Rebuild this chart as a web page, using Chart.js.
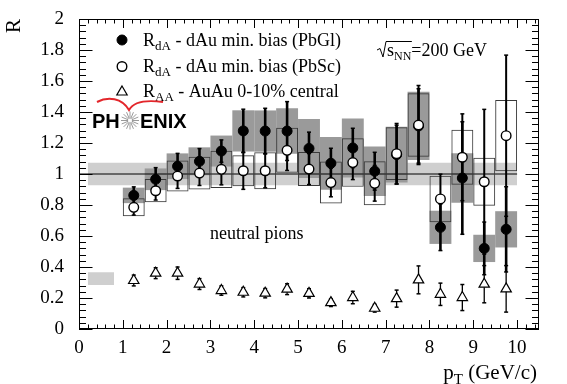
<!DOCTYPE html>
<html><head><meta charset="utf-8">
<script src="https://cdn.jsdelivr.net/npm/chart.js@4/dist/chart.umd.min.js"></script>
<style>html,body{margin:0;padding:0;background:#fff;}</style>
</head><body>
<canvas id="c" width="567" height="384"></canvas>
<script>
// ---------------- data ----------------
const pt = [1.25, 1.75, 2.25, 2.75, 3.25, 3.75, 4.25, 4.75, 5.25, 5.75, 6.25, 6.75, 7.25, 7.75, 8.25, 8.75, 9.25, 9.75];

const rdaPbGl  = [0.862, 0.966, 1.05, 1.082, 1.148, 1.278, 1.277, 1.277, 1.165, 1.069, 1.168, 1.018, 1.125, 1.31, 0.656, 0.974, 0.52, 0.643];
const statPbGl = [0.055, 0.075, 0.083, 0.082, 0.072, 0.14, 0.147, 0.19, 0.105, 0.097, 0.127, 0.122, 0.19, 0.24, 0.15, 0.363, 0.17, 0.275];
const sysPbGl  = [0.05, 0.07, 0.083, 0.09, 0.10, 0.133, 0.133, 0.147, 0.19, 0.17, 0.19, 0.16, 0.18, 0.22, 0.107, 0.16, 0.088, 0.117];

const rdaPbSc  = [0.785, 0.892, 0.987, 1.006, 1.03, 1.021, 1.021, 1.153, 1.032, 0.945, 1.074, 0.94, 1.131, 1.316, 0.839, 1.108, 0.95, 1.247];
const statPbSc = [0.05, 0.06, 0.08, 0.08, 0.10, 0.12, 0.11, 0.13, 0.10, 0.092, 0.11, 0.115, 0.195, 0.255, 0.16, 0.28, 0.467, 0.52];
const sysPbSc  = [0.058, 0.075, 0.10, 0.106, 0.12, 0.10, 0.12, 0.145, 0.11, 0.135, 0.156, 0.142, 0.17, 0.205, 0.15, 0.178, 0.155, 0.23];

const raaAuAu  = [0.313, 0.36, 0.36, 0.29, 0.248, 0.237, 0.231, 0.257, 0.23, 0.17, 0.203, 0.134, 0.196, 0.317, 0.224, 0.203, 0.289, 0.259];
const statRaa  = [0.035, 0.035, 0.04, 0.035, 0.03, 0.03, 0.03, 0.035, 0.03, 0.025, 0.04, 0.025, 0.055, 0.09, 0.072, 0.084, 0.12, 0.15];

const dAuNormBand  = [0.928, 1.072];   // R range
const dAuNormRange = [0.2, 10.0];      // pT range
const AuAuNormBand  = [0.284, 0.366];
const AuAuNormRange = [0.2, 0.8];
const unityRange = [0, 10];

const xTickValues = [0,1,2,3,4,5,6,7,8,9,10];
const xTickLabels = ['0','1','2','3','4','5','6','7','8','9','10'];
const yTickValues = [0,0.2,0.4,0.6,0.8,1,1.2,1.4,1.6,1.8,2];
const yTickLabels = ['0','0.2','0.4','0.6','0.8','1','1.2','1.4','1.6','1.8','2'];

const SERIF = '"Liberation Serif", "Times New Roman", serif';
const SANS = '"Liberation Sans", Arial, sans-serif';

// ---------------- helpers ----------------
function errSegs(vals, errs) {
  const d = [];
  pt.forEach((x, i) => { d.push({x, y: vals[i] - errs[i]}, {x, y: vals[i] + errs[i]}, {x, y: null}); });
  return d;
}
function caps(vals, errs) {
  const d = [];
  pt.forEach((x, i) => { d.push({x, y: vals[i] - errs[i]}, {x, y: vals[i] + errs[i]}); });
  return d;
}
function boxes(vals, errs) { return pt.map((x, i) => ({x, y: [vals[i] - errs[i], vals[i] + errs[i]]})); }
function pts(vals) { return pt.map((x, i) => ({x, y: vals[i]})); }
function labelFor(values, labels, v) {
  const i = values.findIndex(t => Math.abs(t - v) < 1e-6);
  return i >= 0 ? labels[i] : '';
}

const hidden = {pointRadius: 0, borderWidth: 0, borderColor: 'rgba(0,0,0,0)'};

const datasets = [
  // light grey normalisation band around 1
  Object.assign({type: 'line', order: 100, data: [{x: dAuNormRange[0], y: dAuNormBand[1]}, {x: dAuNormRange[1], y: dAuNormBand[1]}],
    fill: '+1', backgroundColor: '#cfcfcf'}, hidden),
  Object.assign({type: 'line', order: 100, data: [{x: dAuNormRange[0], y: dAuNormBand[0]}, {x: dAuNormRange[1], y: dAuNormBand[0]}],
    fill: false}, hidden),
  // AuAu normalisation box
  Object.assign({type: 'line', order: 100, data: [{x: AuAuNormRange[0], y: AuAuNormBand[1]}, {x: AuAuNormRange[1], y: AuAuNormBand[1]}],
    fill: '+1', backgroundColor: '#cfcfcf'}, hidden),
  Object.assign({type: 'line', order: 100, data: [{x: AuAuNormRange[0], y: AuAuNormBand[0]}, {x: AuAuNormRange[1], y: AuAuNormBand[0]}],
    fill: false}, hidden),
  // PbGl systematic boxes (filled dark grey)
  {type: 'bar', order: 90, data: boxes(rdaPbGl, sysPbGl), backgroundColor: '#9a9a9a', borderWidth: 0,
    grouped: false, barPercentage: 1, categoryPercentage: 1, inflateAmount: 0},
  // unity line
  {type: 'line', order: 80, data: [{x: unityRange[0], y: 1}, {x: unityRange[1], y: 1}], borderColor: '#000', borderWidth: 1, pointRadius: 0},
  // PbSc systematic boxes (open)
  {type: 'bar', order: 70, data: boxes(rdaPbSc, sysPbSc), backgroundColor: 'rgba(0,0,0,0)', borderColor: '#3a3a3a', borderWidth: 1,
    borderSkipped: false, grouped: false, barPercentage: 1, categoryPercentage: 1, inflateAmount: 0},
  // RAA error bars + caps + triangles
  {type: 'line', order: 60, data: errSegs(raaAuAu, statRaa), borderColor: '#000', borderWidth: 1.3, pointRadius: 0, spanGaps: false},
  {type: 'scatter', order: 59, data: caps(raaAuAu, statRaa), pointStyle: 'line', pointRadius: 2, borderColor: '#000', borderWidth: 1.5},
  {type: 'scatter', order: 55, data: pts(raaAuAu), pointStyle: 'triangle', pointRadius: 6, backgroundColor: '#fff', borderColor: '#000', borderWidth: 1.2},
  // PbGl error bars + points
  {type: 'line', order: 50, data: errSegs(rdaPbGl, statPbGl), borderColor: '#000', borderWidth: 2.6, pointRadius: 0, spanGaps: false},
  {type: 'scatter', order: 49, data: caps(rdaPbGl, statPbGl), pointStyle: 'line', pointRadius: 2, borderColor: '#000', borderWidth: 1.5},
  {type: 'scatter', order: 45, data: pts(rdaPbGl), pointStyle: 'circle', pointRadius: 5, backgroundColor: '#000', borderColor: '#000', borderWidth: 1},
  // PbSc error bars + points
  {type: 'line', order: 40, data: errSegs(rdaPbSc, statPbSc), borderColor: '#000', borderWidth: 2, pointRadius: 0, spanGaps: false},
  {type: 'scatter', order: 39, data: caps(rdaPbSc, statPbSc), pointStyle: 'line', pointRadius: 2, borderColor: '#000', borderWidth: 1.5},
  {type: 'scatter', order: 35, data: pts(rdaPbSc), pointStyle: 'circle', pointRadius: 4.8, backgroundColor: '#fff', borderColor: '#000', borderWidth: 1.4}
];

// ---------------- decoration plugin ----------------
function rich(ctx, x, y, parts, align) {
  let w = 0;
  parts.forEach(p => { ctx.font = p[1]; w += ctx.measureText(p[0]).width; });
  let cx = align === 'right' ? x - w : x;
  const pos = [];
  parts.forEach(p => { ctx.font = p[1]; ctx.fillText(p[0], cx, y + (p[2] || 0)); const ww = ctx.measureText(p[0]).width; pos.push([cx, cx + ww]); cx += ww; });
  return pos;
}

const decor = {
  id: 'decor',
  afterDraw(chart) {
    const {ctx, chartArea: a, scales: {x, y}} = chart;
    ctx.save();
    ctx.strokeStyle = '#000';
    ctx.lineWidth = 1;
    // frame
    ctx.strokeRect(a.left + 0.5, a.top + 0.5, a.right - a.left - 1, a.bottom - a.top - 1);
    // ticks
    function ticksOn(scale, values, sub, majorLen, minorLen, horizontal) {
      const all = [];
      for (let i = 0; i < values.length; i++) {
        all.push([values[i], majorLen]);
        const next = i + 1 < values.length ? values[i + 1] : scale.max;
        const step = (values[1] - values[0]) / sub;
        for (let k = 1; k < sub; k++) {
          const v = values[i] + k * step;
          if (v < next - 1e-9 && v <= scale.max + 1e-9) all.push([v, minorLen]);
        }
      }
      ctx.beginPath();
      all.forEach(([v, len]) => {
        const p = Math.round(scale.getPixelForValue(v)) + 0.5;
        if (horizontal) {
          ctx.moveTo(p, a.bottom); ctx.lineTo(p, a.bottom - len);
          ctx.moveTo(p, a.top); ctx.lineTo(p, a.top + len);
        } else {
          ctx.moveTo(a.left, p); ctx.lineTo(a.left + len, p);
          ctx.moveTo(a.right, p); ctx.lineTo(a.right - len, p);
        }
      });
      ctx.stroke();
    }
    ticksOn(x, xTickValues, 5, 9, 4.5, true);
    ticksOn(y, yTickValues, 5, 13.5, 7, false);

    ctx.fillStyle = '#000';
    ctx.textAlign = 'left';
    ctx.textBaseline = 'alphabetic';
    const F18 = '18px ' + SERIF, F13 = '13px ' + SERIF;

    // x-axis title
    rich(ctx, 537, 379, [['p', '21px ' + SERIF], ['T', '15px ' + SERIF, 5], [' (GeV/c)', '21px ' + SERIF]], 'right');

    // legend markers
    const H = Chart.helpers;
    ctx.fillStyle = '#000'; ctx.lineWidth = 1;
    H.drawPoint(ctx, {pointStyle: 'circle', radius: 5, borderWidth: 1, rotation: 0}, 122, 40);
    ctx.fillStyle = '#fff'; ctx.lineWidth = 1.4;
    H.drawPoint(ctx, {pointStyle: 'circle', radius: 4.8, borderWidth: 1.4, rotation: 0}, 122, 66.5);
    ctx.lineWidth = 1.2;
    H.drawPoint(ctx, {pointStyle: 'triangle', radius: 6, borderWidth: 1.2, rotation: 0}, 122, 92);
    ctx.fillStyle = '#000';
    rich(ctx, 143, 46, [['R', F18], ['dA', F13, 4], [' - dAu min. bias (PbGl)', F18]]);
    rich(ctx, 143, 72, [['R', F18], ['dA', F13, 4], [' - dAu min. bias (PbSc)', F18]]);
    rich(ctx, 143, 97, [['R', F18], ['AA', F13, 4], [' - AuAu 0-10% central', F18]]);

    // sqrt(s_NN) = 200 GeV
    const pos = rich(ctx, 387, 56, [['s', F18], ['NN', '12px ' + SERIF, 4], ['=200 GeV', F18]]);
    ctx.lineWidth = 1;
    ctx.beginPath();
    ctx.moveTo(377, 50); ctx.lineTo(380, 48.5); ctx.lineTo(383, 57); ctx.lineTo(386, 41.5); ctx.lineTo(pos[1][1] + 0.5, 41.5);
    ctx.stroke();

    // neutral pions
    ctx.font = F18;
    ctx.fillText('neutral pions', 210, 239);

    // PHENIX logo
    ctx.font = 'bold 20px ' + SANS;
    ctx.fillText('PH', 92, 128);
    ctx.fillText('ENIX', 140, 128);
    ctx.strokeStyle = '#9a9a9a'; ctx.lineWidth = 1;
    ctx.beginPath();
    for (let k = 0; k < 16; k++) {
      const t = k * Math.PI / 8;
      ctx.moveTo(130 + 2 * Math.cos(t), 120.5 + 2 * Math.sin(t));
      ctx.lineTo(130 + 9 * Math.cos(t), 120.5 + 9 * Math.sin(t));
    }
    ctx.stroke();
    ctx.strokeStyle = '#e3262b'; ctx.lineWidth = 2;
    ctx.beginPath();
    ctx.moveTo(97, 102);
    ctx.bezierCurveTo(108, 96, 122, 98, 129, 110);
    ctx.bezierCurveTo(134, 101, 148, 100, 163, 102);
    ctx.stroke();
    ctx.restore();
  }
};

new Chart(document.getElementById('c'), {
  type: 'scatter',
  data: {datasets},
  options: {
    responsive: false,
    animation: false,
    events: [],
    devicePixelRatio: 1,
    layout: {padding: {left: 0, top: 19, right: 28, bottom: 0}},
    plugins: {legend: {display: false}, tooltip: {enabled: false}},
    scales: {
      x: {
        type: 'linear', min: 0, max: 10.5, offset: false,
        grid: {display: false, offset: false}, border: {display: false},
        ticks: {stepSize: 1, includeBounds: false, autoSkip: false, maxRotation: 0, minRotation: 0, padding: 0, color: '#000',
          font: {family: SERIF, size: 19}, callback: v => labelFor(xTickValues, xTickLabels, v)},
        afterFit: s => { s.height = 55; }
      },
      y: {
        type: 'linear', min: 0, max: 2,
        grid: {display: false}, border: {display: false},
        ticks: {stepSize: 0.2, autoSkip: false, padding: 7, color: '#000',
          font: {family: SERIF, size: 19}, callback: v => labelFor(yTickValues, yTickLabels, v)},
        title: {display: true, text: 'R', align: 'end', color: '#000', padding: {top: 2, bottom: 0},
          font: {family: SERIF, size: 21}},
        afterFit: s => { s.width = 79; }
      }
    }
  },
  plugins: [decor]
});
</script>
</body></html>
